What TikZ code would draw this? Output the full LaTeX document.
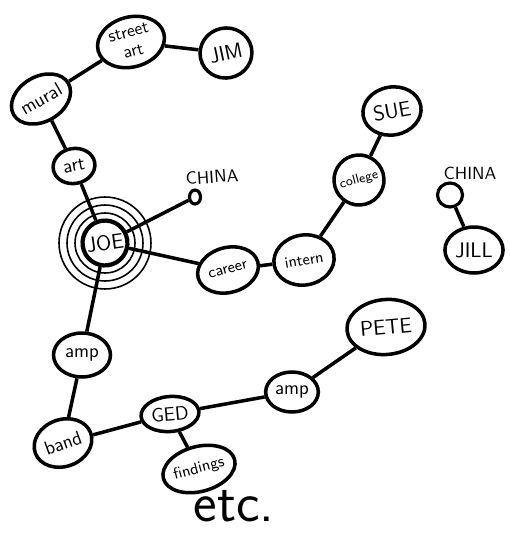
\documentclass[tikz,border=0pt]{standalone}
\usepackage{tikz}
\usetikzlibrary{shapes.geometric}
\tikzset{
  topic/.style={ellipse,draw=black,line width=2pt,inner sep=1pt,font=\sffamily\fontsize{11}{12}\selectfont},
  person/.style={topic,font=\sffamily\fontsize{12}{13}\selectfont},
  dot/.style={ellipse,draw=black,line width=1.8pt,inner sep=0pt},
  link/.style={line width=2pt},
  ring/.style={line width=0.9pt},
  lbl/.style={font=\sffamily\fontsize{10}{11}\selectfont},
}
\begin{document}
\begin{tikzpicture}[x=0.02cm,y=-0.02cm]
    \useasboundingbox (0,0) rectangle (510,548);
    % ------------- JOE and its rings -------------
    \foreach \r in {0.6,0.76,0.92}
      \draw[ring] (105,243) circle (\r cm);
    \node[person,circle,minimum size=0.76cm,line width=2.4pt,rotate=8] (joe) at (105,243) {JOE};
    % ------------- top branch -------------
    \node[topic,minimum width=1.36cm,minimum height=1.0cm,rotate=15,align=center,inner sep=0pt,
          font=\sffamily\fontsize{10}{11}\selectfont] (street) at (131,42) {street\\art};
    \node[person,minimum width=1.04cm,minimum height=1.0cm,rotate=12] (jim) at (226,53) {JIM};
    \node[topic,minimum width=1.0cm,minimum height=0.9cm,inner sep=0pt,rotate=30] (mural) at (41,99) {mural};
    \node[topic,minimum width=0.84cm,minimum height=0.7cm,rotate=10] (art) at (74,166) {art};
    \draw[link] (street) -- (jim);
    \draw[link] (street) -- (mural);
    \draw[link] (mural) -- (art);
    \draw[link] (art) -- (joe);
    % ------------- CHINA -------------
    \node[dot,minimum width=0.22cm,minimum height=0.28cm] (china1) at (195,197) {};
    \node[lbl,rotate=4] (chinaA) at (212,177) {CHINA};
    \draw[link] (joe) -- (china1);
    % ------------- career branch -------------
    \node[topic,minimum width=1.04cm,minimum height=0.9cm,rotate=15,
          font=\sffamily\fontsize{9}{10}\selectfont] (career) at (228,270) {career};
    \node[topic,minimum width=1.04cm,minimum height=1.0cm,rotate=10,
          font=\sffamily\fontsize{9}{10}\selectfont] (intern) at (304,260) {intern};
    \node[topic,circle,minimum size=1.0cm,rotate=15,inner sep=0pt,
          font=\sffamily\fontsize{7.5}{8}\selectfont] (college) at (359,180) {college};
    \node[person,minimum width=0.9cm,minimum height=0.96cm,rotate=10] (sue) at (392,111) {SUE};
    \draw[link] (joe) -- (career);
    \draw[link] (career) -- (intern);
    \draw[link] (intern) -- (college);
    \draw[link] (college) -- (sue);
    % ------------- JILL -------------
    \node[dot,minimum width=0.5cm,minimum height=0.48cm] (china2) at (450,195) {};
    \node[lbl] (chinaB) at (470,173) {CHINA};
    \node[person,minimum width=0.9cm,minimum height=0.92cm] (jill) at (474,250) {JILL};
    \draw[link] (china2) -- (jill);
    % ------------- lower branch -------------
    \node[topic,minimum width=1.14cm,minimum height=0.88cm] (ampL) at (82,355) {amp};
    \node[topic,minimum width=1.06cm,minimum height=0.94cm,rotate=20] (band) at (63,443) {band};
    \node[topic,minimum width=0.92cm,minimum height=0.7cm,rotate=5] (ged) at (170,414) {GED};
    \node[topic,minimum width=1.24cm,minimum height=0.9cm,rotate=15,inner sep=0pt,
          font=\sffamily\fontsize{9}{10}\selectfont] (findings) at (199,469) {findings};
    \node[topic,minimum width=1.0cm,minimum height=0.8cm] (ampR) at (292,392) {amp};
    \node[person,minimum width=1.16cm,minimum height=1.1cm,rotate=5] (pete) at (386,327) {PETE};
    \draw[link] (joe) -- (ampL);
    \draw[link] (ampL) -- (band);
    \draw[link] (band) -- (ged);
    \draw[link] (ged) -- (findings);
    \draw[link] (ged) -- (ampR);
    \draw[link] (ampR) -- (pete);
    \node[font=\sffamily\fontsize{32}{34}\selectfont] (etc) at (234,506) {etc.};
  \end{tikzpicture}
\end{document}
